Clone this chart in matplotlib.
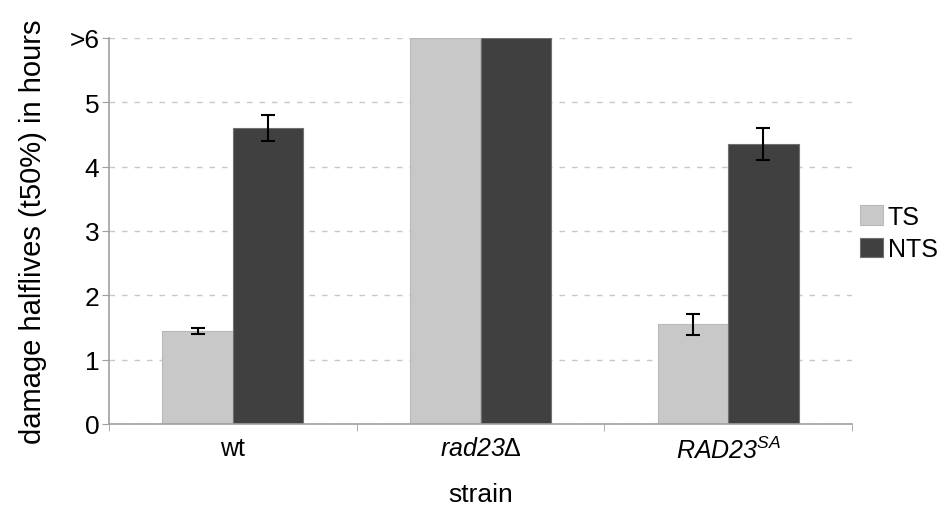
import numpy as np
import matplotlib.pyplot as plt

plt.rcParams['font.family'] = ['Liberation Sans', 'DejaVu Sans']
plt.rcParams['mathtext.fontset'] = 'custom'
plt.rcParams['mathtext.rm'] = 'Liberation Sans:italic'
plt.rcParams['mathtext.it'] = 'Liberation Sans:italic'
plt.rcParams['mathtext.sf'] = 'Liberation Sans'

# data
strains = ['wt', r'$\mathrm{rad23}\mathsf{\Delta}$', r'$\mathrm{RAD23}^{\mathrm{SA}}$']
ts_vals = [1.45, 6.0, 1.55]
ts_err = [0.05, 0.0, 0.16]
nts_vals = [4.6, 6.0, 4.35]
nts_err = [0.2, 0.0, 0.25]
ytick_labels = ['0', '1', '2', '3', '4', '5', '>6']

fig = plt.figure(figsize=(9.41, 5.06), dpi=100)
ax = fig.add_axes([109 / 941, 1 - 425 / 506, (852 - 109) / 941, (425 - 39) / 506])

x = np.arange(len(strains))
w = 0.285
axis_gray = '#a0a0a0'

ax.bar(x - w / 2, ts_vals, w, color='#c8c8c8', edgecolor='#b8b8b8', linewidth=0.8,
       label='TS', zorder=2)
ax.bar(x + w / 2, nts_vals, w, color='#404040', edgecolor='#707070', linewidth=0.8,
       label='NTS', zorder=2)

# error bars only where present
for xi, v, e in zip(x - w / 2, ts_vals, ts_err):
    if e > 0:
        ax.errorbar(xi, v, yerr=e, color='black', capsize=4.7, capthick=1.5, elinewidth=1.5, zorder=3)
for xi, v, e in zip(x + w / 2, nts_vals, nts_err):
    if e > 0:
        ax.errorbar(xi, v, yerr=e, color='black', capsize=4.7, capthick=1.5, elinewidth=1.5, zorder=3)

ax.set_xlim(-0.5, 2.5)
ax.set_ylim(0, 6)
ax.set_yticks(range(7))
ax.set_yticklabels(ytick_labels)
ax.yaxis.grid(True, linestyle=(0, (4, 5)), color='#c8c8c8', linewidth=1, zorder=0)

ax.set_xticks(x)
ax.set_xticklabels(strains)
ax.set_xticks([-0.5, 0.5, 1.5, 2.5], minor=True)
ax.tick_params(axis='x', which='major', length=0, labelsize=18, pad=9)
ax.tick_params(axis='x', which='minor', length=5, color=axis_gray)
ax.tick_params(axis='y', length=5, color=axis_gray, labelsize=19, pad=2)

for s in ['top', 'right']:
    ax.spines[s].set_visible(False)
for s in ['left', 'bottom']:
    ax.spines[s].set_color(axis_gray)
    ax.spines[s].set_linewidth(1.2)

ax.set_ylabel('damage halflives (t50%) in hours', fontsize=21, labelpad=16)
ax.set_xlabel('strain', fontsize=19, labelpad=14)

ax.legend(loc='center left', bbox_to_anchor=(860 / 941, 1 - 234 / 506),
          bbox_transform=fig.transFigure, frameon=False, fontsize=18,
          borderpad=0, borderaxespad=0,
          handlelength=0.9, handleheight=0.8, handletextpad=0.2, labelspacing=0.35)

fig.savefig('out.png', dpi=100)
